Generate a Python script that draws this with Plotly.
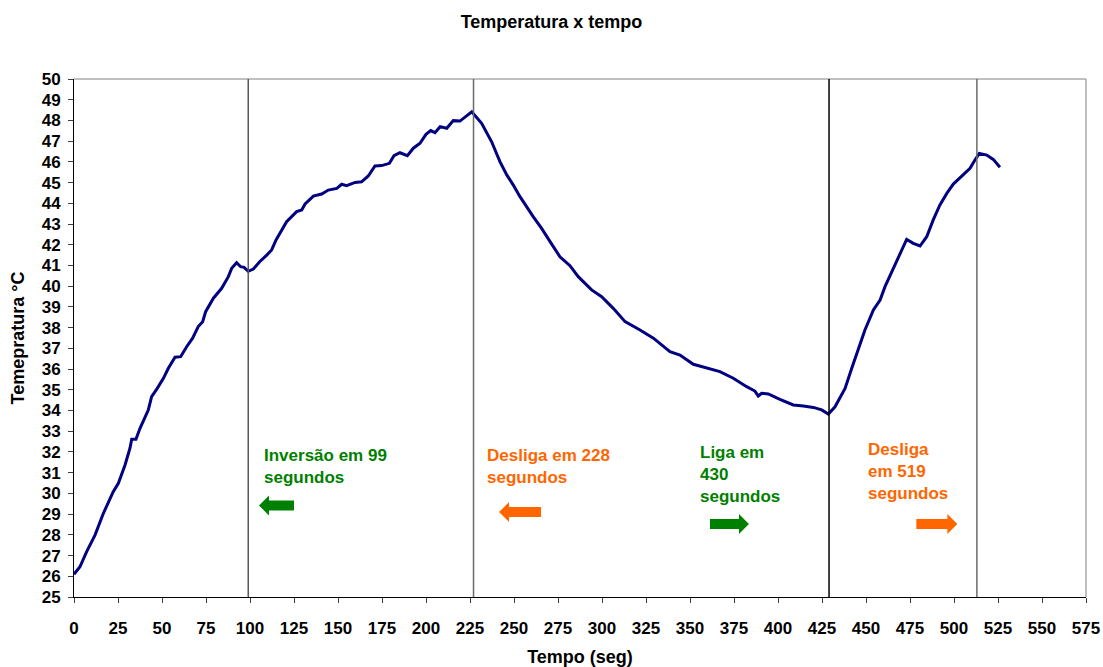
import plotly.graph_objects as go

# Temperature readings (seconds, °C)
tempo = [
    0, 3.4, 7.2, 12, 16.7, 22.3, 25.2, 29, 31.8, 32.8,
    35.2, 37.5, 42.2, 44.1, 47.3, 50.8, 53.6, 57.4, 60.6, 64,
    67.4, 70.6, 73.1, 74.8, 79.2, 83.9, 87.7, 89.6, 92.4, 94.7,
    96.6, 99, 101.9, 105.5, 109.5, 112.3, 114.8, 118, 120.8, 126.5,
    129.4, 131.3, 136, 140.7, 144.5, 149.3, 152.1, 154.9, 159.7, 163.4,
    167.2, 171, 174.8, 179.2, 181.8, 185.2, 189.4, 192.8, 196.6, 200,
    202.7, 205.1, 208, 211.8, 215.5, 219.3, 222.7, 226, 231.6, 237.3,
    242, 245.9, 249.6, 253.4, 261, 265.7, 270.5, 276.1, 281.8, 286.5,
    294.1, 299.8, 306.4, 313.1, 321.6, 329.2, 338.6, 344.3, 351.9, 359.5,
    367, 374.6, 382.2, 386.9, 388.8, 390.7, 394.5, 401.1, 408.7, 414.4,
    420.1, 424.8, 428.6, 432.4, 438.1, 441.9, 445.6, 449.4, 454.2, 458,
    460.8, 464.6, 468.4, 470.8, 473.1, 476.9, 480.7, 484.5, 488.2, 492,
    495.9, 499.6, 504.4, 509.1, 511.9, 514.4, 518.6, 522.3, 526.1,
]
temperatura = [
    26.1, 26.46, 27.19, 28.0, 29.04, 30.08, 30.49, 31.37, 32.18, 32.61,
    32.61, 33.14, 34.02, 34.67, 35.07, 35.55, 36.04, 36.57, 36.6, 37.08,
    37.49, 38.05, 38.29, 38.77, 39.42, 39.9, 40.46, 40.86, 41.13, 40.94,
    40.91, 40.72, 40.83, 41.18, 41.5, 41.75, 42.23, 42.71, 43.11, 43.6,
    43.68, 43.97, 44.35, 44.45, 44.64, 44.72, 44.92, 44.85, 45.01, 45.04,
    45.32, 45.8, 45.82, 45.93, 46.3, 46.44, 46.3, 46.66, 46.9, 47.33,
    47.51, 47.41, 47.7, 47.62, 47.99, 47.97, 48.18, 48.42, 47.86, 46.97,
    46.01, 45.37, 44.88, 44.32, 43.35, 42.79, 42.15, 41.42, 40.99, 40.46,
    39.82, 39.49, 38.93, 38.29, 37.89, 37.49, 36.84, 36.68, 36.23, 36.07,
    35.88, 35.56, 35.15, 34.94, 34.7, 34.83, 34.8, 34.54, 34.27, 34.22,
    34.15, 34.03, 33.83, 34.18, 35.07, 36.04, 36.92, 37.89, 38.85, 39.33,
    39.98, 40.7, 41.35, 41.83, 42.26, 42.07, 41.94, 42.39, 43.2, 43.92,
    44.48, 44.93, 45.32, 45.69, 46.09, 46.41, 46.33, 46.12, 45.74,
]

# Event markers (vertical lines) and their colours
eventos = [99, 227, 429, 513]
cores_eventos = ["#5a5a5a", "#6a6a6a", "#000000", "#6a6a6a"]

# Event notes: text, colour, anchor (seconds, °C)
notas = [
    ("Inversão em 99<br>segundos", "#008000", 107, 31.3),
    ("Desliga em 228<br>segundos", "#FF6600", 233.5, 31.3),
    ("Liga em<br>430<br>segundos", "#008000", 354.5, 30.89),
    ("Desliga<br>em 519<br>segundos", "#FF6600", 450, 31.06),
]
# Block arrows: direction, colour, tip (seconds, °C), length in px
setas = [
    ("left", "#008000", 105.1, 29.42, 35),
    ("left", "#FF6600", 241.5, 29.1, 42),
    ("right", "#008000", 383.5, 28.52, 39),
    ("right", "#FF6600", 501.9, 28.52, 41),
]

FONT = "Arial, Liberation Sans, sans-serif"

fig = go.Figure()
fig.add_trace(go.Scatter(
    x=tempo, y=temperatura, mode="lines",
    line=dict(color="#000080", width=3),
    hoverinfo="x+y", showlegend=False,
))

shapes = []
# top and right frame
shapes.append(dict(type="line", xref="paper", yref="paper", x0=0, x1=1, y0=1, y1=1,
                   line=dict(color="#808080", width=1)))
shapes.append(dict(type="line", xref="paper", yref="paper", x0=1, x1=1, y0=0, y1=1,
                   line=dict(color="#808080", width=1)))
for xv, c in zip(eventos, cores_eventos):
    shapes.append(dict(type="line", xref="x", yref="paper", x0=xv, x1=xv, y0=0, y1=1,
                       line=dict(color=c, width=1.5)))

# block arrows, sized in pixels around their tip
for direcao, cor, xa, ya, comp in setas:
    s = 1 if direcao == "left" else -1
    path = (f"M0,0 L{s*10},10 L{s*10},5 L{s*comp},5 L{s*comp},-5 "
            f"L{s*10},-5 L{s*10},-10 Z")
    shapes.append(dict(type="path", xref="x", yref="y", xsizemode="pixel", ysizemode="pixel",
                       xanchor=xa, yanchor=ya, path=path,
                       fillcolor=cor, line=dict(width=0)))

annotations = []
for texto, cor, xa, ya in notas:
    annotations.append(dict(
        x=xa, y=ya, xref="x", yref="y", text=f"<b>{texto}</b>", showarrow=False,
        xanchor="left", yanchor="middle", align="left",
        font=dict(family=FONT, size=17, color=cor),
    ))

fig.update_layout(
    width=1103, height=667,
    margin=dict(l=74, r=17, t=79, b=70),
    paper_bgcolor="white", plot_bgcolor="white",
    title=dict(text="<b>Temperatura x tempo</b>", x=0.5, xanchor="center",
               y=1 - 22 / 667, yanchor="middle",
               font=dict(family=FONT, size=18, color="black")),
    font=dict(family=FONT, color="black"),
    shapes=shapes,
    annotations=annotations,
    xaxis=dict(
        range=[0, 575], dtick=25, tick0=0, automargin=False,
        showline=True, linecolor="black", linewidth=1,
        ticks="outside", ticklen=5, tickcolor="#404040",
        showgrid=False, zeroline=False,
        tickfont=dict(family=FONT, size=17, color="black", weight="bold"),
        ticklabelstandoff=11,
        title=dict(text="<b>Tempo (seg)</b>", standoff=12,
                   font=dict(family=FONT, size=18, color="black")),
    ),
    yaxis=dict(
        range=[25, 50], dtick=1, tick0=25, automargin=False,
        showline=True, linecolor="black", linewidth=1,
        ticks="outside", ticklen=5, tickcolor="#404040",
        showgrid=False, zeroline=False,
        tickfont=dict(family=FONT, size=17, color="black", weight="bold"),
        ticklabelstandoff=4,
        title=dict(text="<b>Temepratura °C</b>", standoff=12,
                   font=dict(family=FONT, size=18, color="black")),
    ),
)

fig.write_html("out.html")
